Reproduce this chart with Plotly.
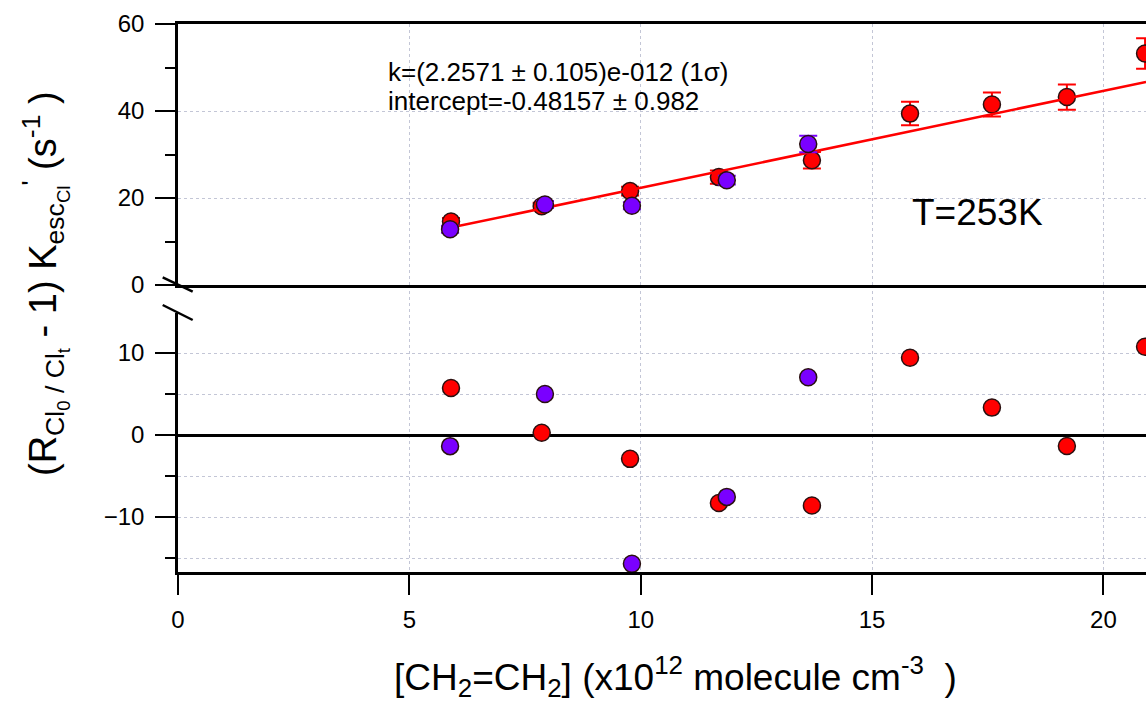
import plotly.graph_objects as go

# ---- data ----
red_x = [5.90, 7.86, 9.77, 11.69, 13.70, 15.82, 17.59, 19.21, 20.90]
red_y = [14.6, 18.1, 21.6, 24.8, 28.7, 39.4, 41.5, 43.2, 53.2]
red_err = [0.8, 0.8, 1.0, 1.5, 1.9, 2.7, 2.75, 2.9, 3.5]
red_res = [5.74, 0.29, -2.9, -8.28, -8.6, 9.43, 3.35, -1.33, 10.77]

purple_x = [5.88, 7.93, 9.81, 11.86, 13.62]
purple_y = [12.8, 18.5, 18.2, 24.1, 32.4]
purple_err = [0.8, 0.8, 0.8, 1.0, 1.9]
purple_res = [-1.35, 5.0, -15.7, -7.54, 7.05]

fit_x = [5.90, 20.92]
fit_y = [13.2, 46.7]

x_ticks = [0, 5, 10, 15, 20]
top_ticks = [0, 20, 40, 60]
top_minor = [10, 30, 50]
bot_ticks = [-10, 0, 10]
bot_minor = [-15, -5, 5]

fit_text1 = "k=(2.2571 ± 0.105)e-012 (1σ)"
fit_text2 = "intercept=-0.48157 ± 0.982"
temp_text = "T=253K"

RED = "#FF0000"
PURPLE = "#7A00FF"
EDGE = "#2a1010"
GRID = "#c3c6d6"
FONT = "Arial, Liberation Sans, sans-serif"

fig = go.Figure()

# top panel
fig.add_trace(go.Scatter(
    x=red_x, y=red_y, mode="markers", xaxis="x2", yaxis="y2",
    error_y=dict(type="data", array=red_err, color=RED, thickness=2, width=9),
    marker=dict(size=17, color=RED, line=dict(color=EDGE, width=1.5)),
    showlegend=False))
fig.add_trace(go.Scatter(
    x=fit_x, y=fit_y, mode="lines", xaxis="x2", yaxis="y2",
    line=dict(color=RED, width=2.5), showlegend=False))
fig.add_trace(go.Scatter(
    x=purple_x, y=purple_y, mode="markers", xaxis="x2", yaxis="y2",
    error_y=dict(type="data", array=purple_err, color=PURPLE, thickness=2, width=9),
    marker=dict(size=17, color=PURPLE, line=dict(color=EDGE, width=1.5)),
    showlegend=False))

# bottom panel (residuals)
fig.add_trace(go.Scatter(
    x=red_x, y=red_res, mode="markers", xaxis="x", yaxis="y",
    marker=dict(size=17, color=RED, line=dict(color=EDGE, width=1.5)),
    showlegend=False))
fig.add_trace(go.Scatter(
    x=purple_x, y=purple_res, mode="markers", xaxis="x", yaxis="y",
    marker=dict(size=17, color=PURPLE, line=dict(color=EDGE, width=1.5)),
    showlegend=False))

split = 287 / 548

axis_common = dict(
    showline=True, linecolor="black", linewidth=2.5,
    gridcolor=GRID, griddash="dot", gridwidth=1,
    tickfont=dict(family=FONT, size=24, color="black"),
    tickcolor="black", tickwidth=2,
)

fig.update_layout(
    width=1146, height=702,
    margin=dict(l=178, r=0, t=24, b=130),
    paper_bgcolor="white", plot_bgcolor="white",
    font=dict(family=FONT, color="black"),
    xaxis=dict(domain=[0, 1], range=[0, 20.92], anchor="y",
               tickmode="array", tickvals=x_ticks, ticks="outside", ticklen=20,
               ticklabelstandoff=4,
               showgrid=True, zeroline=False, **axis_common),
    xaxis2=dict(domain=[0, 1], range=[0, 20.92], anchor="y2", matches="x",
                showticklabels=False, ticks="", mirror=True,
                showgrid=True, zeroline=False, **axis_common),
    yaxis=dict(domain=[0, split], range=[-16.7, 18.3], anchor="x",
               tickmode="array", tickvals=bot_ticks, ticks="outside", ticklen=20,
               ticklabelstandoff=6,
               showgrid=True, zeroline=True, zerolinecolor="black", zerolinewidth=2.5,
               minor=dict(tickmode="array", tickvals=bot_minor, ticks="outside", ticklen=10,
                          tickwidth=2, tickcolor="black", showgrid=True,
                          gridcolor=GRID, griddash="dot", gridwidth=1),
               **axis_common),
    yaxis2=dict(domain=[split, 1], range=[0, 60], anchor="x2",
                tickmode="array", tickvals=top_ticks, ticks="outside", ticklen=20,
                ticklabelstandoff=6,
                showgrid=True, zeroline=False,
                minor=dict(tickmode="array", tickvals=top_minor, ticks="outside", ticklen=10,
                           tickwidth=2, tickcolor="black", showgrid=False),
                **axis_common),
)

def py(p):
    return (572 - p) / 548

def px(p):
    return (p - 178) / 968

# axis break: gap in left axis + two slashes
fig.add_shape(type="rect", xref="paper", yref="paper",
              x0=px(174), x1=px(182), y0=py(313), y1=py(288),
              fillcolor="white", line=dict(width=0), layer="above")
fig.add_shape(type="line", xref="paper", yref="paper",
              x0=px(162.7), y0=py(277.3), x1=px(192.7), y1=py(291.7),
              line=dict(color="black", width=2.5), layer="above")
fig.add_shape(type="line", xref="paper", yref="paper",
              x0=px(162.7), y0=py(305), x1=px(192.7), y1=py(320),
              line=dict(color="black", width=2.5), layer="above")

fig.add_annotation(x=px(386), y=py(72), xref="paper", yref="paper",
                   text=fit_text1, showarrow=False, xanchor="left", yanchor="middle",
                   font=dict(family=FONT, size=26, color="black"))
fig.add_annotation(x=px(386), y=py(101), xref="paper", yref="paper",
                   text=fit_text2, showarrow=False, xanchor="left", yanchor="middle",
                   font=dict(family=FONT, size=26, color="black"))
fig.add_annotation(x=px(910), y=py(212), xref="paper", yref="paper",
                   text=temp_text, showarrow=False, xanchor="left", yanchor="middle",
                   font=dict(family=FONT, size=37, color="black"))

y_title = ("(R<sub>Cl<sub>0</sub> / Cl<sub>t</sub></sub> - 1) "
           "K<sub>esc<sub>Cl</sub></sub><sup>'</sup> (s<sup>-1</sup> )")
x_title = "[CH<sub>2</sub>=CH<sub>2</sub>] (x10<sup>12</sup> molecule cm<sup>-3</sup>  )"

fig.add_annotation(x=px(45), y=py(284), xref="paper", yref="paper",
                   text=y_title, showarrow=False, textangle=-90,
                   xanchor="center", yanchor="middle",
                   font=dict(family=FONT, size=38, color="black"))
fig.add_annotation(x=px(675), y=py(676), xref="paper", yref="paper",
                   text=x_title, showarrow=False,
                   xanchor="center", yanchor="middle",
                   font=dict(family=FONT, size=37, color="black"))

fig.write_html("out.html",
               config={"displayModeBar": False},
               post_script="document.body.style.margin='0';document.body.style.overflow='hidden';")
